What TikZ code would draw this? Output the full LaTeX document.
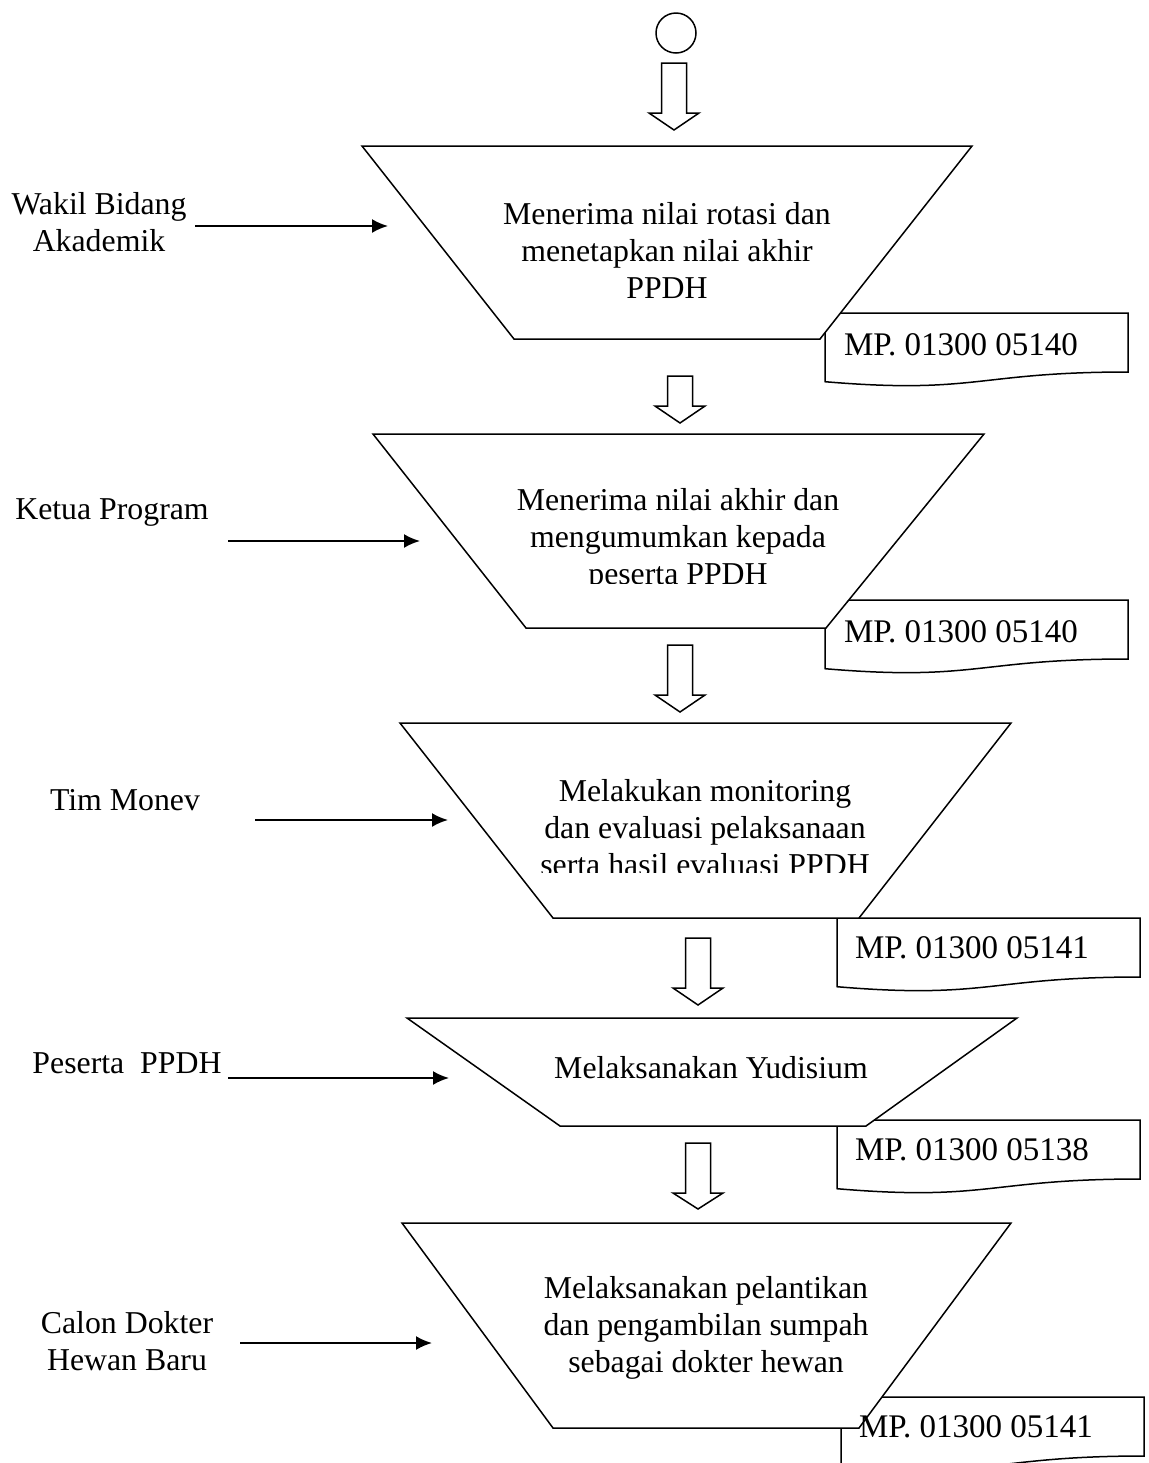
\documentclass[tikz,border=0pt]{standalone}
\usepackage{fontspec}
\setmainfont{Liberation Serif}
\usetikzlibrary{arrows.meta}
\def\blockdown(#1,#2,#3,#4){\draw[blockarrow] (#1-12.5,#2) -- (#1+12.5,#2) -- (#1+12.5,#3) -- (#1+25,#3) -- (#1,#4) -- (#1-25,#3) -- (#1-12.5,#3) -- cycle;}
\def\docshape(#1,#2){\draw[docbox] (#1,#2) -- (#1+303,#2) -- (#1+303,#2+59) .. controls (#1+151.5,#2+59) and (#1+151.5,#2+81.5) .. (#1,#2+68.7) -- cycle;}

\begin{document}
\begin{tikzpicture}[x=0.5pt, y=-0.5pt,
		font=\fontsize{15.9}{18.5}\selectfont,
		blockarrow/.style={draw, fill=white, line width=0.75pt},
		docbox/.style={draw, fill=white, line width=0.75pt},
		trapbox/.style={draw, fill=white, line width=0.75pt},
		mptext/.style={font=\fontsize{16.5}{19}\selectfont},
		feed/.style={line width=1pt, -{Latex[length=8pt,width=7pt]}}]
			%%%%% START %%%%%
			\useasboundingbox (0,0) rectangle (1149,1463);
			
			\draw[line width=0.75pt] (676,33) circle (10pt);
			\blockdown(674,63,113,130)
			
			\docshape(825,313)
			\draw[trapbox] (362,146) -- (972,146) -- (820,339) -- (514,339) -- cycle;
			\node[align=center] (step1) at (667,250) {Menerima nilai rotasi dan\\menetapkan nilai akhir\\PPDH};
			\node[mptext] (mp1) at (961,345) {MP. 01300 05140};
			
			\blockdown(680,376,406,423)
			
			\docshape(825,600)
			\draw[trapbox] (373,434) -- (984,434) -- (826,628) -- (526,628) -- cycle;
			\begin{scope}
				\clip (380,440) rectangle (980,583);
				\node[align=center] (step2) at (678,540) {Menerima nilai akhir dan\\mengumumkan kepada\\peserta PPDH};
			\end{scope}
			\node[mptext] (mp2) at (961,632) {MP. 01300 05140};
			
			\blockdown(680,645,695,712)
			
			\docshape(837,918)
			\draw[trapbox] (400,723) -- (1011,723) -- (859,918) -- (553,918) -- cycle;
			\begin{scope}
				\clip (410,730) rectangle (1000,872);
				\node[align=center] (step3) at (705,828) {Melakukan monitoring\\dan evaluasi pelaksanaan\\serta hasil evaluasi PPDH};
			\end{scope}
			\node[mptext] (mp3) at (972,948) {MP. 01300 05141};
			
			\blockdown(698,938,988,1005)
			
			\docshape(837,1120)
			\draw[trapbox] (407,1018) -- (1017,1018) -- (866,1126) -- (560,1126) -- cycle;
			\node (step4) at (711,1068) {Melaksanakan Yudisium};
			\node[mptext] (mp4) at (972,1150) {MP. 01300 05138};
			
			\blockdown(698,1143,1193,1209)
			
			\docshape(841,1397)
			\draw[trapbox] (402,1223) -- (1011,1223) -- (859,1428) -- (553,1428) -- cycle;
			\node[align=center] (step5) at (706,1328) {Melaksanakan pelantikan\\dan pengambilan sumpah\\sebagai dokter hewan};
			\node[mptext] (mp5) at (976,1427) {MP. 01300 05141};
			
			% pelaksana
			\node[align=center] (wakil) at (99,222) {Wakil Bidang\\Akademik};
			\node (ketua) at (112,513) {Ketua Program};
			\node (tim) at (125,800) {Tim Monev};
			\node (peserta) at (127,1063) {Peserta~~PPDH};
			\node[align=center] (calon) at (127,1341) {Calon Dokter\\Hewan Baru};
			
			\coordinate (in1) at (388,226);
			\coordinate (in2) at (420,541);
			\coordinate (in3) at (448,820);
			\coordinate (in4) at (449,1078);
			\coordinate (in5) at (432,1343);
			\draw[feed] (195,226) -- (in1);
			\draw[feed] (228,541) -- (in2);
			\draw[feed] (255,820) -- (in3);
			\draw[feed] (228,1078) -- (in4);
			\draw[feed] (240,1343) -- (in5);
			%%%%% END %%%%%
\end{tikzpicture}
\end{document}
